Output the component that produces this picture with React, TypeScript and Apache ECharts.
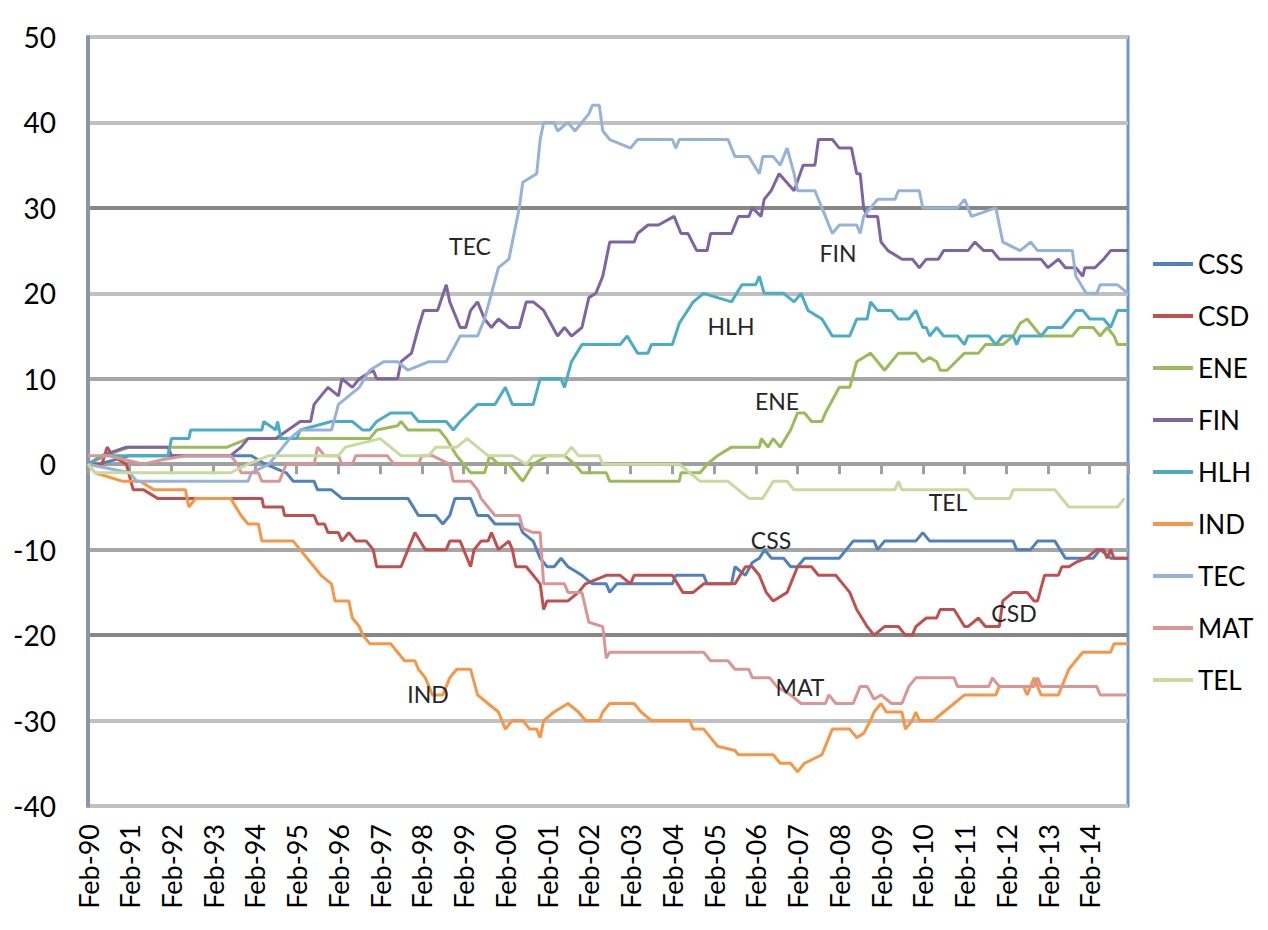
import { useEffect, useRef } from "react";
import * as echarts from "echarts";

// x values are months since Feb-1990
const seriesNames = ["CSS", "CSD", "ENE", "FIN", "HLH", "IND", "TEC", "MAT", "TEL"];
const seriesColors = ["#4F81BD", "#C0504D", "#9BBB59", "#8064A2", "#4BACC6", "#F79646", "#95B3D7", "#D99694", "#C9DA9F"];

const yMin = -40;
const yMax = 50;
const yStep = 10;
const xMax = 299;
const xStep = 12;
const firstYear = 90;

const cssData = [[0,0],[3,0],[12,1],[20,1],[36,1],[47,1],[51,0],[57,-1],[59,-2],[65,-2],[66,-3],[70,-3],[73,-4],[92,-4],[95,-6],[100,-6],[102,-7],[104,-6],[105.5,-4],[110,-4],[112,-6],[115,-6],[117,-7],[124,-7],[125,-8],[128,-9],[130,-11],[132,-12],[134,-12],[136,-11],[138,-12],[142,-13],[145,-14],[149,-14],[150,-15],[152,-14],[168,-14],[169,-13],[177,-13],[178,-14],[185,-14],[186,-12],[189,-13],[191,-11.5],[193,-11],[194.5,-10],[196.5,-11],[200,-11],[202,-12],[204,-12],[206,-11],[216,-11],[218,-10],[220,-9],[226,-9],[227,-10],[229,-9],[238,-9],[240,-8],[242,-9],[266,-9],[267,-10],[271,-10],[273,-9],[278,-9],[281,-11],[289,-11],[291,-10],[294,-11],[299,-11]];
const csdData = [[0,0],[4,0],[5.5,2],[7,1],[11,0],[13,-3],[16,-3],[20,-4],[50,-4],[50.5,-5],[56,-5],[56.5,-6],[65,-6],[66,-7],[68,-7],[69,-8],[72,-8],[73,-9],[75,-8],[77,-9],[80,-9],[82,-10],[83,-12],[90,-12],[92,-10],[94,-8],[97,-10],[103,-10],[104,-9],[107,-9],[109,-11],[110,-12],[111,-10],[113,-9],[115,-9],[116,-8],[118,-10],[121,-9],[122,-10],[123,-12],[126,-12],[128,-13],[130,-14],[131,-17],[132,-16],[138,-16],[141,-15],[143,-14],[149,-13],[153,-13],[156,-14],[157,-13],[168,-13],[171,-15],[174,-15],[177,-14],[186,-14],[189,-12],[191,-12],[193,-13],[195,-15],[197,-16],[201,-15],[202,-14],[204,-12],[208,-12],[210,-13],[215,-13],[217,-14],[219,-15],[221,-17],[224,-19],[226,-20],[229,-19],[233,-19],[235,-20],[237,-20],[238,-19],[241,-18],[244,-18],[245,-17],[249,-17],[252,-19],[253,-19],[256,-18],[258,-19],[262,-19],[263,-16],[266,-15],[270,-15],[272,-16],[273,-16],[275,-13],[279,-13],[280,-12],[282,-12],[284,-11.5],[287,-11],[290,-10],[292,-10],[293,-11],[294,-10],[295,-11],[299,-11]];
const eneData = [[0,0],[5,1],[12,2],[40,2],[46,3],[81,3],[83,4],[89,4.5],[90,5],[92,4],[101,4],[103,3],[106,1],[108,0],[110,-1],[114,-1],[115.5,1],[118,0],[121,0],[123,-1],[125,-2],[128,0],[132,1],[137,1],[140,0],[142,-1],[149,-1],[150,-2],[170,-2],[170.5,-1],[176,-1],[178,0],[181,1],[185,2],[193,2],[193.6,3],[195.5,2],[197,3],[199,2],[202,4],[204,6],[206,6],[208,5],[211,5],[212,6],[216,9],[219,9],[221,12],[223,12.5],[225,13],[229,11],[233,13],[238,13],[240,12],[242,12.5],[244,12],[245,11],[247,11],[252,13],[256,13],[258,14],[263,14],[266,15],[268,16.5],[270,17],[272,16],[274,15],[283,15],[285,16],[289,16],[291,15],[293,16],[295,15],[296,14],[299,14]];
const finData = [[0,0],[4,1],[11,2],[23,2],[24,1],[41,1],[44,2],[46,3],[54,3],[61,5],[64,5],[65,7],[69,9],[72,8],[73,10],[76,9],[78,10],[82,11],[83,10],[89,10],[90,12],[93,13],[95,16],[96.5,18],[100.5,18],[103,21],[104,19],[107,16],[108.6,16],[110,18],[112,19],[114,17],[116,16],[118,17],[121,16],[124,16],[126,19],[128,19],[131,18],[135,15],[137,16],[139,15],[142,16],[144,19.5],[146,20],[148,22],[150,26],[157,26],[158,27],[161,28],[164,28],[168.5,29],[170.5,27],[172.5,27],[175,25],[178,25],[179,27],[185,27],[187,29],[190,29],[191,30],[193.5,29],[194.4,31],[196.4,32],[198.7,34],[203,32],[205.6,35],[209,35],[210,38],[214,38],[216,37],[219.5,37],[221,34],[222,34],[223,30],[224,29],[227,29],[228,26],[230,25],[234,24],[237,24],[239,23],[241,24],[244.5,24],[246,25],[253,25],[255,26],[257.5,25],[260,25],[262,24],[274,24],[276,23],[279,24],[281,23],[284,23],[286,22],[286.6,23],[289.5,23],[292,24],[294,25],[299,25]];
const hlhData = [[0,0],[4,1],[23,1],[24,3],[29,3],[29.5,4],[50,4],[50.5,5],[54,4],[54.5,5],[55.5,3],[60,3],[61,4],[70,5],[76,5],[79,4],[81,4],[83,5],[87,6],[93,6],[95,5],[103,5],[105,4],[107,5],[112,7],[117,7],[120,9],[122,7],[128,7],[130,10],[136,10],[137,9],[139,12],[142,14],[153,14],[155,15],[158,13],[161,13],[162,14],[168,14],[170,16.5],[174,19],[177,20],[185,19],[188,21],[192,21],[193,22],[194.4,20],[200,20],[203,19],[205,20],[207,18],[211,17],[214,15],[219,15],[221,17],[224,17],[225,19],[227,18],[231,18],[233,17],[236,17],[238,18],[240,16],[241,16],[242,15],[244,16],[246,15],[250,15],[252,14],[253,15],[259,15],[261,14],[263,15],[266,15],[267,14],[268,15],[274,15],[276,16],[280,16],[282,17],[284,18],[286,18],[288,17],[292,17],[294,16],[296,18],[299,18]];
const indData = [[0,0],[2,-1],[10,-2],[15,-2],[19,-3],[28,-3],[29,-5],[31,-4],[41,-4],[44,-6],[46,-7],[49,-7],[50,-9],[59,-9],[61,-10],[63,-11],[67,-13],[70,-14],[71,-16],[75,-16],[76,-18],[78,-19],[79,-20],[81,-21],[87,-21],[89,-22],[91,-23],[94,-23],[95,-24],[97,-25],[99,-27],[102,-27],[104,-25],[106,-24],[110,-24],[112,-27],[115,-28],[118,-29],[120,-31],[122,-30],[125,-30],[127,-31],[129,-31],[130,-32],[131,-30],[134,-29],[138,-28],[141,-29],[143,-30],[147,-30],[148,-29],[150,-28],[157,-28],[159,-29],[162,-30],[173,-30],[174,-31],[177,-31],[179,-32],[181,-33],[186,-33.5],[187,-34],[197,-34],[199,-35],[202,-35],[204,-36],[206,-35],[211,-34],[213,-32],[214,-31],[219,-31],[221,-32],[223,-31.5],[225,-30],[226,-29],[228,-28],[229.5,-29],[234,-29],[235,-31],[237,-30],[238,-29],[239,-30],[243,-30],[246,-29],[249,-28],[252,-27],[261,-27],[262,-26],[269,-26],[270,-27],[272,-25],[274,-27],[279,-27],[281,-25],[282,-24],[284,-23],[286,-22],[294,-22],[295,-21],[299,-21]];
const tecData = [[0,0],[12,-1],[14,-2],[46,-2],[47,-1],[52,0],[58,3],[61,4],[70,4],[72,7],[75,8],[78,9],[81,11],[85,12],[89,12],[92,11],[98,12],[103,12],[107,15],[112,15],[114,17],[116,20],[118,23],[121,24],[122,26],[124,30],[125,33],[129,34],[130,38],[131,40],[134,40],[135,39],[138,40],[140,39],[142,40],[144,41],[145,42],[147,42],[148,39],[150,38],[156,37],[158,38],[168,38],[169,37],[170,38],[184,38],[186,36],[190,36],[193,34],[194,36],[197,36],[199,35],[201,37],[203,34],[204,32],[209,32],[211,30],[214,27],[216,28],[221,28],[222,27],[223,29],[227,31],[232,31],[233,32],[239,32],[240,30],[250,30],[252,31],[254,29],[261,30],[263,26],[268,25],[271,26],[273,25],[283,25],[284,22],[287,20],[290,20],[291,21],[296,21],[299,20]];
const matData = [[0,1],[6,1],[16,0],[21,0.5],[28,1],[41,1],[43,0],[44,-1],[49,-1],[50,-2],[55,-2],[56,-1],[57,0],[65,0],[66,2],[68,1],[72,1],[73,0],[76,0],[77,1],[86,1],[88,0],[95,0],[96,1],[99,1],[104,0],[105,-2],[110,-2],[112,-3],[113,-4],[115,-5],[117,-6],[124,-6],[125,-7.5],[128,-8],[130,-8],[131,-14],[137,-14],[138,-15],[142,-15],[144,-18.5],[148,-19],[149,-22.7],[150,-22],[177,-22],[179,-23],[184,-23],[186,-24],[190,-24],[191,-25],[196,-25],[198,-26],[202,-27],[205,-28],[212,-28],[213,-27],[215,-28],[220,-28],[222,-26],[224,-26],[226,-27.5],[228,-27],[231,-28],[234,-28],[236,-26],[238,-25],[249,-25],[250,-26],[259,-26],[260,-25],[262,-26],[272,-26],[273,-25],[274,-26],[290,-26],[291,-27],[299,-27]];
const telData = [[0,0],[2,-1],[41,-1],[46,0],[52,1],[72,1],[74,2],[84,3],[87,2],[90,1],[98,1],[100,2],[106,2],[109,3],[112,2],[115,1],[122,1],[126,0],[128,1],[137,1],[139,2],[141,1],[147,1],[148,0],[170,0],[173,-1],[176,-2],[184,-2],[190,-4],[194,-4],[197,-2],[201,-2],[203,-3],[232,-3],[233,-2],[234,-3],[253,-3],[255,-4],[265,-4],[266,-3],[278,-3],[282,-5],[296,-5],[298,-4]];

const allData = [cssData, csdData, eneData, finData, hlhData, indData, tecData, matData, telData];

// in-chart series annotations
const annotations = [
  { text: "TEC", x: 470, y: 246 },
  { text: "FIN", x: 838, y: 253 },
  { text: "HLH", x: 731, y: 326 },
  { text: "ENE", x: 777, y: 401 },
  { text: "TEL", x: 948, y: 502 },
  { text: "CSS", x: 771, y: 540 },
  { text: "CSD", x: 1014, y: 613 },
  { text: "MAT", x: 800, y: 687 },
  { text: "IND", x: 428, y: 694 },
];

// grid line colours by tick, from -40 to 50
const gridLineColors = ["#C0C0C0", "#C0C0C0", "#878787", "#A6A6A6", "#A6A6A6", "#A6A6A6", "#C0C0C0", "#878787", "#C0C0C0", "#C0C0C0"];

const FONT = "Lato, 'Open Sans', sans-serif";

function monthLabel(v: number): string {
  const idx = Math.round(v / xStep);
  const yy = (firstYear + idx) % 100;
  return "Feb-" + String(yy).padStart(2, "0");
}

export default function App() {
  const ref = useRef<HTMLDivElement>(null);
  useEffect(() => {
    if (!ref.current) return;
    const chart = echarts.init(ref.current, undefined, { renderer: "svg" });
    const option: any = {
      animation: false,
      backgroundColor: "#FFFFFF",
      grid: {
        left: 88,
        right: 140,
        top: 37,
        bottom: 124,
        show: true,
        borderColor: "#6F95C9",
        borderWidth: 3,
        backgroundColor: "transparent",
      },
      xAxis: [
        {
          type: "value",
          position: "bottom",
          min: 0,
          max: xMax,
          interval: xStep,
          axisLine: { show: false, onZero: false },
          axisTick: { show: false },
          splitLine: { show: false },
          axisLabel: {
            rotate: 90,
            margin: 18,
            fontSize: 27,
            fontFamily: FONT,
            color: "#000",
            showMaxLabel: false,
            formatter: monthLabel,
          },
        },
        {
          type: "value",
          position: "top",
          min: 0,
          max: xMax,
          interval: xStep,
          axisLine: { show: true, onZero: true, lineStyle: { color: "#A0A0A0", width: 4 } },
          axisTick: { show: true, inside: true, length: 10, lineStyle: { color: "#A0A0A0", width: 3 } },
          axisLabel: { show: false },
          splitLine: { show: false },
        },
      ],
      yAxis: {
        type: "value",
        min: yMin,
        max: yMax,
        interval: yStep,
        axisLine: { show: true, onZero: false, lineStyle: { color: "#8C96A6", width: 4 } },
        axisTick: { show: false },
        axisLabel: { margin: 32, fontSize: 28, fontFamily: FONT, color: "#000" },
        splitLine: { show: true, lineStyle: { color: gridLineColors, width: 4 } },
      },
      legend: {
        orient: "vertical",
        left: 1153,
        top: 251,
        icon: "rect",
        itemWidth: 40,
        itemHeight: 4,
        itemGap: 26,
        padding: 0,
        textStyle: { fontSize: 26, fontFamily: FONT, color: "#000", padding: [0, 0, 0, 0] },
        data: seriesNames,
      },
      graphic: annotations.map((a) => ({
        type: "text",
        x: a.x,
        y: a.y,
        z: 100,
        style: {
          text: a.text,
          fontSize: 23,
          fontFamily: FONT,
          fill: "#262626",
          align: "center",
          verticalAlign: "middle",
          textAlign: "center",
          textVerticalAlign: "middle",
        },
      })),
      series: seriesNames.map((name, i) => ({
        name,
        type: "line",
        xAxisIndex: 0,
        data: allData[i],
        symbol: "none",
        showSymbol: false,
        color: seriesColors[i],
        lineStyle: { width: 3, color: seriesColors[i] },
        z: 3,
      })),
    };
    chart.setOption(option);
    return () => chart.dispose();
  }, []);
  return (
    <div
      ref={ref}
      style={{ position: "fixed", left: 0, top: 0, width: 1268, height: 930, background: "#fff" }}
    />
  );
}
